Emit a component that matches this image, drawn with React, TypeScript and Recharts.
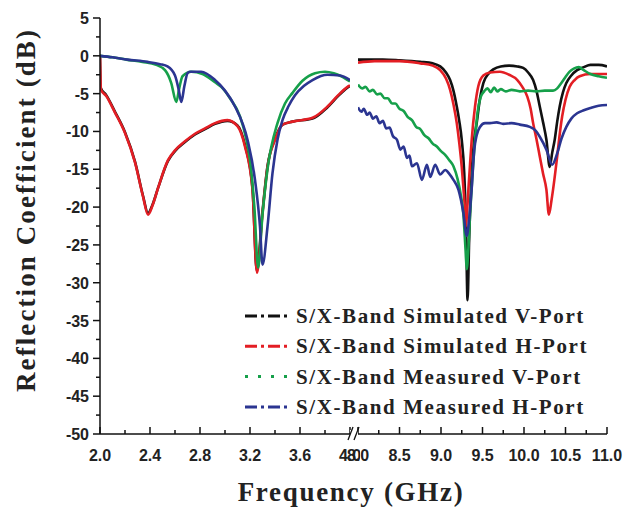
import { LineChart, Line, XAxis, YAxis } from 'recharts';

// S/X-band reflection coefficient, broken frequency axis (2.0–4.0 | 8.0–11.0 GHz)
type Pt = [number, number];

const simVLow: Pt[] = [
  [2.0, 0], [2.005, -4.2], [2.05, -5.2], [2.12, -7.4], [2.2, -10.1], [2.28, -14.0], [2.344, -18.5],
  [2.384, -20.8], [2.42, -19.7], [2.464, -17.5], [2.544, -13.9], [2.6, -12.6], [2.68, -11.4],
  [2.76, -10.4], [2.84, -9.7], [2.92, -9.0], [3.02, -8.6], [3.1, -9.2], [3.16, -11.8], [3.22, -17.5],
  [3.254, -28.4], [3.3, -20.6], [3.34, -14.6], [3.4, -11.0], [3.46, -9.1], [3.54, -8.7], [3.7, -8.3],
  [3.82, -6.8], [3.9, -5.4], [3.98, -4.2], [4.0, -4.0],
];
const simHLow: Pt[] = [
  [2.0, -0.2], [2.008, -4.5], [2.05, -5.3], [2.12, -7.5], [2.2, -10.2], [2.28, -14.1], [2.344, -18.6],
  [2.384, -21.0], [2.42, -19.8], [2.464, -17.5], [2.544, -13.8], [2.6, -12.5], [2.68, -11.3],
  [2.76, -10.3], [2.84, -9.6], [2.92, -8.9], [3.02, -8.5], [3.1, -9.3], [3.16, -12.0], [3.22, -17.7],
  [3.256, -28.7], [3.3, -20.8], [3.34, -14.7], [3.4, -11.1], [3.46, -9.1], [3.54, -8.7], [3.7, -8.2],
  [3.82, -6.7], [3.9, -5.3], [3.98, -4.1], [4.0, -3.9],
];
const measVLow: Pt[] = [
  [2.0, 0], [2.1, -0.2], [2.21, -0.5], [2.34, -0.8], [2.45, -1.2], [2.52, -1.9], [2.57, -3.6],
  [2.61, -6.1], [2.635, -4.2], [2.66, -2.7], [2.73, -2.1], [2.82, -2.4], [2.92, -3.5], [2.97, -4.1],
  [3.04, -5.6], [3.12, -8.0], [3.17, -11.0], [3.2, -13.8], [3.235, -20.0], [3.265, -28.0],
  [3.3, -21.0], [3.34, -15.0], [3.42, -8.9], [3.48, -6.3], [3.54, -4.9], [3.62, -3.3], [3.72, -2.3],
  [3.8, -2.1], [3.87, -2.3], [3.93, -2.7], [4.0, -3.4],
];
const measHLow: Pt[] = [
  [2.0, 0], [2.1, -0.2], [2.22, -0.5], [2.38, -0.8], [2.48, -1.1], [2.54, -1.4], [2.6, -2.6],
  [2.63, -4.5], [2.65, -6.1], [2.675, -4.0], [2.7, -2.3], [2.72, -2.1], [2.81, -2.1], [2.92, -3.2],
  [3.0, -4.6], [3.08, -6.7], [3.18, -11.1], [3.24, -16.4], [3.28, -22.6], [3.3, -27.6], [3.34, -22.6],
  [3.38, -15.5], [3.42, -11.1], [3.46, -8.5], [3.51, -6.6], [3.56, -5.2], [3.63, -4.0], [3.7, -3.2],
  [3.82, -2.5], [3.92, -2.6], [4.0, -3.2],
];

const simVHigh: Pt[] = [
  [8.0, -0.5], [8.3, -0.5], [8.5, -0.6], [8.75, -0.8], [8.9, -1.0], [8.99, -1.4], [9.06, -2.2],
  [9.11, -3.2], [9.15, -4.6], [9.19, -6.7], [9.22, -8.6], [9.25, -11.1], [9.28, -15.5], [9.3, -22.0],
  [9.32, -32.3], [9.34, -24.0], [9.37, -15.5], [9.4, -11.0], [9.43, -8.9], [9.47, -5.6], [9.51, -3.6],
  [9.57, -2.4], [9.63, -1.8], [9.72, -1.4], [9.82, -1.3], [9.92, -1.4], [9.99, -1.6], [10.05, -2.2],
  [10.11, -3.2], [10.15, -4.6], [10.19, -6.7], [10.23, -8.8], [10.27, -11.1], [10.31, -14.7],
  [10.34, -12.8], [10.37, -11.1], [10.4, -8.7], [10.43, -6.7], [10.47, -4.8], [10.51, -3.6],
  [10.57, -2.6], [10.64, -1.9], [10.72, -1.5], [10.8, -1.2], [10.9, -1.2], [11.0, -1.4],
];
const simHHigh: Pt[] = [
  [8.0, -0.9], [8.2, -0.7], [8.5, -0.7], [8.75, -1.0], [8.9, -1.3], [8.99, -1.9], [9.06, -3.0],
  [9.11, -4.5], [9.15, -6.4], [9.19, -8.9], [9.22, -11.5], [9.25, -14.7], [9.27, -17.5], [9.29, -20.5],
  [9.3, -22.6], [9.315, -20.5], [9.33, -17.7], [9.35, -14.3], [9.37, -11.1], [9.41, -6.7], [9.45, -4.0],
  [9.51, -2.6], [9.59, -2.2], [9.71, -2.1], [9.82, -2.5], [9.92, -3.2], [9.98, -4.1], [10.04, -5.4],
  [10.08, -7.0], [10.11, -8.9], [10.15, -11.0], [10.19, -13.3], [10.23, -15.6], [10.27, -17.7],
  [10.3, -21.0], [10.33, -19.2], [10.35, -17.7], [10.4, -13.3], [10.43, -10.4], [10.46, -8.0],
  [10.5, -5.8], [10.55, -4.1], [10.61, -3.2], [10.67, -2.7], [10.8, -2.4], [11.0, -2.4],
];
const measVHigh: Pt[] = [
  [8.0, -3.8], [8.05, -4.3], [8.09, -4.1], [8.14, -4.7], [8.18, -4.5], [8.23, -5.1], [8.27, -5.0],
  [8.32, -5.6], [8.36, -5.6], [8.41, -6.3], [8.45, -6.3], [8.5, -7.0], [8.55, -7.3], [8.6, -8.1],
  [8.65, -8.5], [8.7, -9.4], [8.75, -9.7], [8.8, -10.5], [8.85, -10.9], [8.9, -11.6], [8.95, -12.0],
  [9.0, -12.6], [9.05, -13.1], [9.1, -13.8], [9.15, -14.6], [9.2, -16.3], [9.24, -18.5], [9.27, -21.0],
  [9.295, -25.5], [9.31, -28.2], [9.33, -25.5], [9.35, -21.0], [9.38, -15.5], [9.41, -11.0],
  [9.44, -7.5], [9.48, -5.4], [9.52, -4.7], [9.56, -4.3], [9.6, -4.8], [9.64, -4.2], [9.68, -4.7],
  [9.72, -4.4], [9.78, -4.7], [9.85, -4.5], [9.95, -4.7], [10.05, -4.6], [10.15, -4.7], [10.25, -4.6],
  [10.35, -4.6], [10.4, -4.3], [10.45, -3.6], [10.5, -2.8], [10.55, -2.1], [10.6, -1.7], [10.66, -1.5],
  [10.72, -1.9], [10.8, -2.4], [10.9, -2.7], [11.0, -2.9],
];
const measHHigh: Pt[] = [
  [8.0, -6.8], [8.04, -7.4], [8.07, -7.0], [8.11, -7.8], [8.14, -7.5], [8.18, -8.3], [8.22, -8.0],
  [8.26, -8.9], [8.3, -8.6], [8.34, -9.6], [8.38, -9.5], [8.42, -10.6], [8.47, -11.1], [8.51, -12.4],
  [8.55, -12.0], [8.59, -13.5], [8.62, -13.2], [8.65, -14.6], [8.71, -14.2], [8.77, -16.4],
  [8.83, -14.4], [8.87, -16.0], [8.93, -14.4], [8.99, -15.7], [9.05, -15.1], [9.1, -15.6],
  [9.15, -16.4], [9.21, -17.7], [9.27, -20.8], [9.31, -23.8], [9.34, -21.5], [9.37, -17.5],
  [9.4, -12.5], [9.43, -10.5], [9.47, -9.4], [9.53, -8.9], [9.59, -8.9], [9.67, -8.8], [9.75, -9.0],
  [9.85, -8.9], [9.95, -9.1], [10.07, -9.4], [10.14, -9.9], [10.19, -10.7], [10.27, -12.4],
  [10.34, -14.4], [10.4, -12.9], [10.45, -11.0], [10.51, -9.4], [10.57, -8.3], [10.64, -7.6],
  [10.72, -7.2], [10.8, -6.9], [10.9, -6.6], [11.0, -6.5],
];

const yMajor = [5, 0, -5, -10, -15, -20, -25, -30, -35, -40, -45, -50];
const yMinor = [2.5, -2.5, -7.5, -12.5, -17.5, -22.5, -27.5, -32.5, -37.5, -42.5, -47.5];
const xMajorLow = [2.0, 2.4, 2.8, 3.2, 3.6, 4.0];
const xMinorLow = [2.2, 2.6, 3.0, 3.4, 3.8];
const xMajorHigh = [8.0, 8.5, 9.0, 9.5, 10.0, 10.5, 11.0];
const xMinorHigh = [8.25, 8.75, 9.25, 9.75, 10.25, 10.75];

const seriesNames = [
  'S/X-Band Simulated V-Port',
  'S/X-Band Simulated H-Port',
  'S/X-Band Measured V-Port',
  'S/X-Band Measured H-Port',
];
const seriesColors = ['#111111', '#e31e24', '#16a04a', '#2b3591'];
const legendDash = ['12 4 3 4', '12 4 3 4', '3 10', '12 4 3 4'];

const lowSeries = [simVLow, simHLow, measVLow, measHLow];
const highSeries = [simVHigh, simHHigh, measVHigh, measHHigh];

const toRows = (pts: Pt[]) => pts.map(([f, v]) => ({ f, v }));

const TICK_FONT = '"Liberation Sans", Arial, sans-serif';
const TITLE_FONT = '"Liberation Serif", "Times New Roman", serif';

function makeXTick(major: number[]) {
  return function XTick(props: any) {
    const { x, y, payload } = props;
    const isMajor = major.includes(payload.value);
    return (
      <g>
        <line x1={x} y1={y} x2={x} y2={y - (isMajor ? 7 : 4)} stroke="#111" strokeWidth={1.5} />
        {isMajor && (
          <text x={x} y={y + 27} textAnchor="middle" fontFamily={TICK_FONT} fontWeight="bold" fontSize={16} fill="#222">
            {payload.value.toFixed(1)}
          </text>
        )}
      </g>
    );
  };
}

function YTick(props: any) {
  const { x, y, payload } = props;
  const isMajor = yMajor.includes(payload.value);
  return (
    <g>
      <line x1={x} y1={y} x2={x - (isMajor ? 7 : 4)} y2={y} stroke="#111" strokeWidth={1.5} />
      {isMajor && (
        <text x={x - 11} y={y + 6} textAnchor="end" fontFamily={TICK_FONT} fontWeight="bold" fontSize={16} fill="#222">
          {payload.value}
        </text>
      )}
    </g>
  );
}

const LowTick = makeXTick(xMajorLow);
const HighTick = makeXTick(xMajorHigh);

export default function App() {
  return (
    <div style={{ position: 'absolute', left: 0, top: 0, width: 626, height: 514, background: '#fff' }}>
      <div style={{ position: 'absolute', left: 0, top: 0 }}>
        <LineChart width={360} height={514} margin={{ top: 18, right: 10, bottom: 50, left: 40 }}>
          <XAxis
            type="number" dataKey="f" domain={[2, 4]} ticks={[...xMajorLow, ...xMinorLow]} interval={0}
            allowDataOverflow height={30} tickSize={0} tickMargin={0} tickLine={false}
            axisLine={{ stroke: '#111', strokeWidth: 1.5 }} tick={<LowTick />}
          />
          <YAxis
            type="number" domain={[-50, 5]} ticks={[...yMajor, ...yMinor]} interval={0} width={60}
            tickSize={0} tickMargin={0} tickLine={false} axisLine={{ stroke: '#111', strokeWidth: 1.5 }}
            tick={<YTick />}
          />
          {lowSeries.map((s, i) => (
            <Line key={i} data={toRows(s)} dataKey="v" type="monotone" stroke={seriesColors[i]}
              strokeWidth={2.6} dot={false} isAnimationActive={false} />
          ))}
        </LineChart>
      </div>
      <div style={{ position: 'absolute', left: 330, top: 0 }}>
        <LineChart width={296} height={514} margin={{ top: 18, right: 19, bottom: 50, left: 28 }}>
          <XAxis
            type="number" dataKey="f" domain={[8, 11]} ticks={[...xMajorHigh, ...xMinorHigh]} interval={0}
            allowDataOverflow height={30} tickSize={0} tickMargin={0} tickLine={false}
            axisLine={{ stroke: '#111', strokeWidth: 1.5 }} tick={<HighTick />}
          />
          <YAxis type="number" domain={[-50, 5]} hide />
          {highSeries.map((s, i) => (
            <Line key={i} data={toRows(s)} dataKey="v" type="monotone" stroke={seriesColors[i]}
              strokeWidth={2.6} dot={false} isAnimationActive={false} />
          ))}
        </LineChart>
      </div>
      <svg width={626} height={514} style={{ position: 'absolute', left: 0, top: 0, pointerEvents: 'none' }}>
        {/* axis break */}
        <rect x={350} y={430} width={8} height={8} fill="#fff" />
        <line x1={348} y1={440} x2={353} y2={427} stroke="#111" strokeWidth={1.3} />
        <line x1={354} y1={440} x2={359} y2={427} stroke="#111" strokeWidth={1.3} />
        {/* legend */}
        {seriesNames.map((name, i) => (
          <g key={name}>
            <line x1={245} x2={290} y1={316 + i * 30.3} y2={316 + i * 30.3} stroke={seriesColors[i]}
              strokeWidth={3} strokeDasharray={legendDash[i]} />
            <text x={296} y={323 + i * 30.3} fontFamily={TITLE_FONT} fontWeight="bold" fontSize={21}
              letterSpacing={1.6} fill="#222">
              {name}
            </text>
          </g>
        ))}
        <text x={351} y={501} textAnchor="middle" fontFamily={TITLE_FONT} fontWeight="bold" fontSize={27}
          letterSpacing={1.7} fill="#222">
          Frequency (GHz)
        </text>
        <text transform="translate(35,210) rotate(-90)" textAnchor="middle" fontFamily={TITLE_FONT}
          fontWeight="bold" fontSize={27} letterSpacing={2.1} fill="#222">
          Reflection Coefficient (dB)
        </text>
      </svg>
    </div>
  );
}
